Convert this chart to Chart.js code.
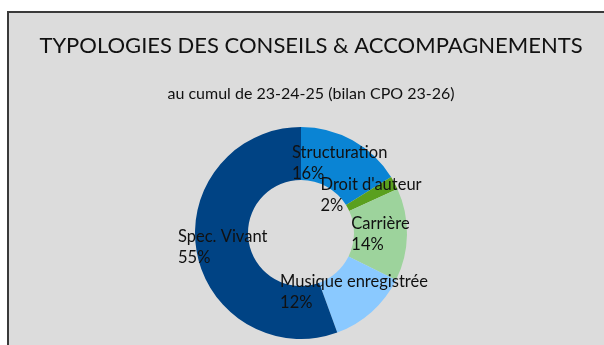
<!DOCTYPE html>
<html>
<head>
<meta charset="utf-8">
<script src="https://cdn.jsdelivr.net/npm/chart.js@4"></script>
<style>
    html, body { margin: 0; padding: 0; background: #ffffff; overflow: hidden; }
    #panel {
        position: absolute;
        left: 7px;
        top: 11px;
        width: 610px;
        height: 345px;
        background: #dcdcdc;
        border-top: 2px solid #3a3a3a;
        border-left: 2px solid #3a3a3a;
    }
    #wrap { position: absolute; left: 0; top: 0; width: 604px; height: 326px; }
</style>
</head>
<body>
<div id="panel">
    <div id="wrap"><canvas id="typologies"></canvas></div>
</div>
<script>
const labels = ['Structuration', "Droit d'auteur", 'Carrière', 'Musique enregistrée', 'Spec. Vivant'];
const parts = [16, 2, 14, 12, 55];
const colors = ['#0a84d4', '#5aa01e', '#9dd39c', '#8ac9ff', '#004384'];

const labelFont = '16.5px Lato';

// doughnut sits a bit left of the centred titles
const shiftArea = {
    id: 'shiftArea',
    afterLayout: function (chart) {
        chart.chartArea.left -= 10;
        chart.chartArea.right -= 10;
    }
};

// name + percent, left aligned, block centred on each arc
const sliceLabels = {
    id: 'sliceLabels',
    afterDatasetsDraw: function (chart) {
        const ctx = chart.ctx;
        const meta = chart.getDatasetMeta(0);
        const values = chart.data.datasets[0].data;
        ctx.save();
        ctx.font = labelFont;
        ctx.fillStyle = '#111111';
        ctx.textAlign = 'left';
        ctx.textBaseline = 'middle';
        meta.data.forEach(function (arc, i) {
            const pos = arc.tooltipPosition();
            const lines = [chart.data.labels[i], values[i] + '%'];
            const w = Math.max.apply(null, lines.map(function (t) { return ctx.measureText(t).width; }));
            const lh = 21;
            const x = pos.x - w / 2;
            const y0 = pos.y - lh / 2;
            lines.forEach(function (t, k) {
                ctx.fillText(t, x, y0 + k * lh);
            });
        });
        ctx.restore();
    }
};

new Chart(document.getElementById('typologies'), {
    type: 'doughnut',
    data: {
        labels: labels,
        datasets: [{
            data: parts,
            backgroundColor: colors,
            borderWidth: 0
        }]
    },
    plugins: [shiftArea, sliceLabels],
    options: {
        responsive: true,
        maintainAspectRatio: false,
        animation: false,
        cutout: '50%',
        layout: { padding: 0 },
        plugins: {
            legend: { display: false },
            tooltip: { enabled: false },
            title: {
                display: true,
                text: 'TYPOLOGIES DES CONSEILS & ACCOMPAGNEMENTS',
                color: '#111111',
                font: { family: 'Lato', size: 22, weight: 'normal', lineHeight: 1.2 },
                padding: { top: 20, bottom: 0 }
            },
            subtitle: {
                display: true,
                text: 'au cumul de 23-24-25 (bilan CPO 23-26)',
                color: '#111111',
                font: { family: 'Lato', size: 16, weight: 'normal', lineHeight: 1.2 },
                padding: { top: 25, bottom: 23.4 }
            }
        }
    }
});
</script>
</body>
</html>
